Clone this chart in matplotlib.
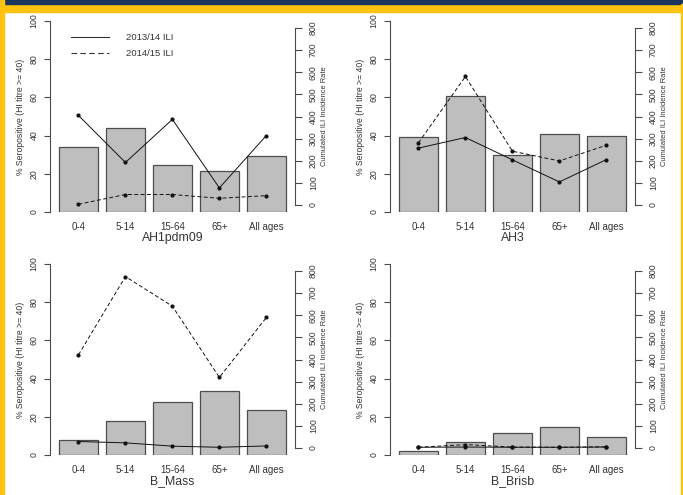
import matplotlib
matplotlib.use("Agg")
import matplotlib.pyplot as plt
from matplotlib.patches import Rectangle
from matplotlib.lines import Line2D
from matplotlib.transforms import blended_transform_factory

plt.rcParams['font.family'] = ['Liberation Sans', 'DejaVu Sans']

W, H = 683, 495

age_groups = ["0-4", "5-14", "15-64", "65+", "All ages"]
strains = ["AH1pdm09", "AH3", "B_Mass", "B_Brisb"]

# % seropositive (HI titre >= 40) per age group
seropos = {
    "AH1pdm09": [34.0, 44.1, 24.6, 21.3, 29.5],
    "AH3":      [39.3, 60.6, 29.7, 40.8, 39.8],
    "B_Mass":   [7.7, 17.6, 27.6, 33.5, 23.4],
    "B_Brisb":  [1.9, 6.6, 11.4, 14.5, 9.3],
}

# cumulated ILI incidence rate, 2013/14 season
ili_1314 = {
    "AH1pdm09": [405, 192, 387, 77, 314],
    "AH3":      [257, 305, 204, 104, 205],
    "B_Mass":   [29, 23, 8, 3, 9],
    "B_Brisb":  [3, 4, 3, 3, 4],
}

# cumulated ILI incidence rate, 2014/15 season
ili_1415 = {
    "AH1pdm09": [3, 47, 47, 30, 42],
    "AH3":      [281, 581, 243, 199, 270],
    "B_Mass":   [421, 775, 641, 319, 590],
    "B_Brisb":  [3, 15, 4, 3, 5],
}

left_ticks = [0, 20, 40, 60, 80, 100]
right_ticks = [0, 100, 200, 300, 400, 500, 600, 700, 800]

fig = plt.figure(figsize=(W / 100, H / 100), dpi=100)

# frame: navy band and gold border
gold = "#FFC20E"
navy = "#1C355E"
for (x, y, w, h, c) in [(0, 0, W, 12, gold), (0, 0, W, 4.3, navy),
                        (0, 0, 4.3, H, gold), (680.5, 4.3, 3, H, gold)]:
    fig.patches.append(Rectangle((x / W, 1 - (y + h) / H), w / W, h / H,
                                 transform=fig.transFigure, color=c, zorder=0))

panels = {
    "AH1pdm09": (49.8, 21),
    "AH3": (389.8, 21),
    "B_Mass": (49.8, 264),
    "B_Brisb": (389.8, 264),
}
pw, ph = 245.2, 191

axis_col = "#4a4a4a"
text_col = "#333333"
xpos = [0.7 + 1.2 * i for i in range(len(age_groups))]

for name in strains:
    x0, y0 = panels[name]
    ax = fig.add_axes([x0 / W, 1 - (y0 + ph) / H, pw / W, ph / H])
    ax.patch.set_alpha(0)
    ax.bar(xpos, seropos[name], width=1.0, color="#BEBEBE",
           edgecolor="#4d4d4d", linewidth=0.9, zorder=1)
    ax.set_xlim(-0.032, 6.232)
    ax.set_ylim(0, 100)
    for s in ["top", "bottom", "right"]:
        ax.spines[s].set_visible(False)
    ax.spines["left"].set_bounds(0, 100)
    ax.spines["left"].set_color(axis_col)
    ax.spines["left"].set_linewidth(0.8)
    ax.set_yticks(left_ticks)
    ax.set_yticklabels([str(t) for t in left_ticks], rotation=90, va="center")
    ax.tick_params(axis="y", length=4, width=0.8, color=axis_col,
                   labelsize=6.3, labelcolor=text_col, pad=4)
    ax.set_xticks([])

    tr = blended_transform_factory(ax.transData, ax.transAxes)
    for xp, lab in zip(xpos, age_groups):
        ax.text(xp, -0.0785, lab, transform=tr, ha="center", va="center",
                fontsize=7, color=text_col)
    ax.text(0.5, -0.136, name, transform=ax.transAxes, ha="center",
            va="center", fontsize=8.8, color=text_col)
    ax.text(-0.1215, 0.5, "% Seropositive (HI titre >= 40)",
            transform=ax.transAxes, rotation=90, ha="center", va="center",
            fontsize=6.2, color=text_col)

    ax2 = ax.twinx()
    ax2.set_ylim(-32, 832)
    for s in ["top", "bottom", "left"]:
        ax2.spines[s].set_visible(False)
    ax2.spines["right"].set_bounds(0, 800)
    ax2.spines["right"].set_color(axis_col)
    ax2.spines["right"].set_linewidth(0.8)
    ax2.set_yticks(right_ticks)
    ax2.set_yticklabels([str(t) for t in right_ticks], rotation=90, va="center")
    ax2.tick_params(axis="y", length=5, width=0.8, color=axis_col,
                    labelsize=6.3, labelcolor=text_col, pad=5)
    ax2.plot(xpos, ili_1314[name], color="#111111", lw=0.7, marker="o",
             markersize=2, zorder=3)
    ax2.plot(xpos, ili_1415[name], color="#111111", lw=0.7, marker="o",
             markersize=2, dashes=(4, 2.5), zorder=3)
    ax2.text(1.122, 0.5, "Cumulated ILI Incidence Rate",
             transform=ax.transAxes, rotation=90, ha="center", va="center",
             fontsize=5.4, color=text_col)

    if name == "AH1pdm09":
        handles = [Line2D([], [], color="#333333", lw=0.8),
                   Line2D([], [], color="#333333", lw=0.8, dashes=(5, 3))]
        ax2.legend(handles, ["2013/14 ILI", "2014/15 ILI"], frameon=False,
                   loc="upper left", bbox_to_anchor=(0.05, 0.98),
                   fontsize=6.8, handlelength=4.1, handletextpad=1.8,
                   labelspacing=0.75, labelcolor=text_col)

fig.savefig("out.png", dpi=100)
